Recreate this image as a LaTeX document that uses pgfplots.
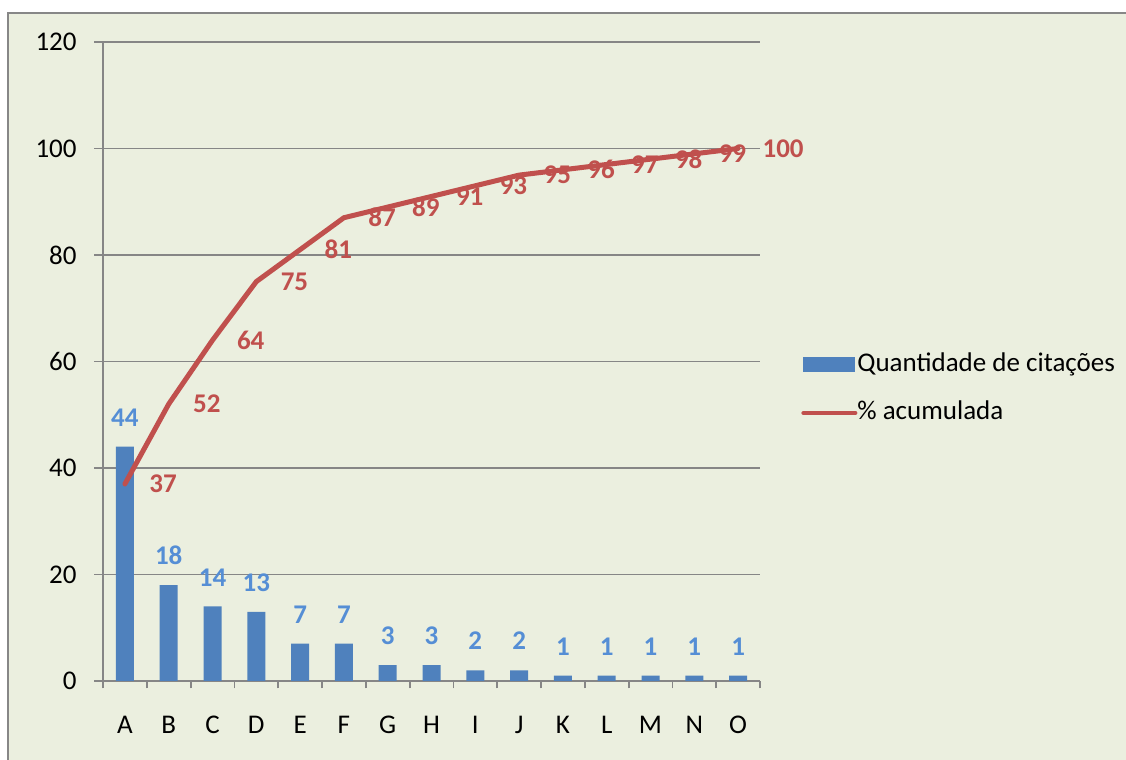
\documentclass[border=0pt]{standalone}
\usepackage{pgfplots}
\pgfplotsset{compat=1.18}
\usepackage{fontspec}
\setmainfont{Carlito}
\definecolor{bgc}{HTML}{EBEFDF}
\definecolor{bordc}{HTML}{878787}
\definecolor{axc}{HTML}{868686}
\definecolor{barc}{HTML}{4F81BD}
\definecolor{lblblue}{HTML}{558ED5}
\definecolor{linec}{HTML}{C0504D}
\newcommand{\lblfont}{\fontsize{13.5}{16}\selectfont}
\begin{document}
\begin{tikzpicture}
\fill[white] (0,0) rectangle (563pt,380pt);
\path[use as bounding box] (0,0) rectangle (563pt,380pt);
\fill[bgc] (4pt,0) rectangle (563pt,373.5pt);
\draw[bordc, line width=0.75pt] (4pt,0) -- (4pt,373.5pt) -- (563pt,373.5pt);
\begin{axis}[
  at={(51.5pt,39.5pt)}, anchor=south west,
  scale only axis, width=328.5pt, height=319.5pt,
  xmin=-0.5, xmax=14.5, ymin=0, ymax=120,
  clip=false,
  axis x line*=bottom, axis y line*=left,
  ytick={0,20,40,60,80,100,120},
  xtick={0,1,2,3,4,5,6,7,8,9,10,11,12,13,14},
  xticklabels={A,B,C,D,E,F,G,H,I,J,K,L,M,N,O},
  minor xtick={-0.5,0.5,1.5,2.5,3.5,4.5,5.5,6.5,7.5,8.5,9.5,10.5,11.5,12.5,13.5,14.5},
  tick align=outside,
  major tick length=4.25pt, minor tick length=3.7pt,
  major x tick style={draw=none},
  ymajorgrids,
  axis line style={draw=axc, line width=0.9pt},
  major grid style={draw=axc, line width=0.9pt},
  tick style={draw=axc, line width=0.9pt},
  tick label style={font=\lblfont, text=black},
  /pgf/number format/assume math mode=true,
  yticklabel style={inner sep=0pt, anchor=east, xshift=-8.75pt},
  xticklabel style={inner sep=0pt, anchor=north, yshift=-13pt},
  legend style={at={(1.0624,0.457)}, anchor=west, draw=none, fill=none,
    font=\lblfont, inner sep=0pt, row sep=11pt,
    nodes={inner sep=0pt, text height=10pt, text depth=3pt, xshift=3.5pt}},
  legend cell align=left,
]
\addplot[ybar, bar width=9pt, fill=barc, draw=none,
  nodes near coords,
  every node near coord/.append style={font=\bfseries\lblfont, text=lblblue, anchor=south, inner sep=0pt, yshift=10pt},
  legend image code/.code={\fill[barc] (0pt,-3.75pt) rectangle (26pt,3.75pt);}]
coordinates {(0,44)(1,18)(2,14)(3,13)(4,7)(5,7)(6,3)(7,3)(8,2)(9,2)(10,1)(11,1)(12,1)(13,1)(14,1)};
\addlegendentry{Quantidade de citações}
\addplot[linec, line width=2.5pt, mark=none, line join=round, line cap=round,
  nodes near coords,
  every node near coord/.append style={font=\bfseries\lblfont, text=linec, anchor=west, inner sep=0pt, xshift=11pt},
  legend image code/.code={\draw[linec, line width=2pt, line cap=round] (0pt,0pt) -- (26pt,0pt);}]
coordinates {(0,37)(1,52)(2,64)(3,75)(4,81)(5,87)(6,89)(7,91)(8,93)(9,95)(10,96)(11,97)(12,98)(13,99)(14,100)};
\addlegendentry{\% acumulada}
\end{axis}
\end{tikzpicture}
\end{document}
